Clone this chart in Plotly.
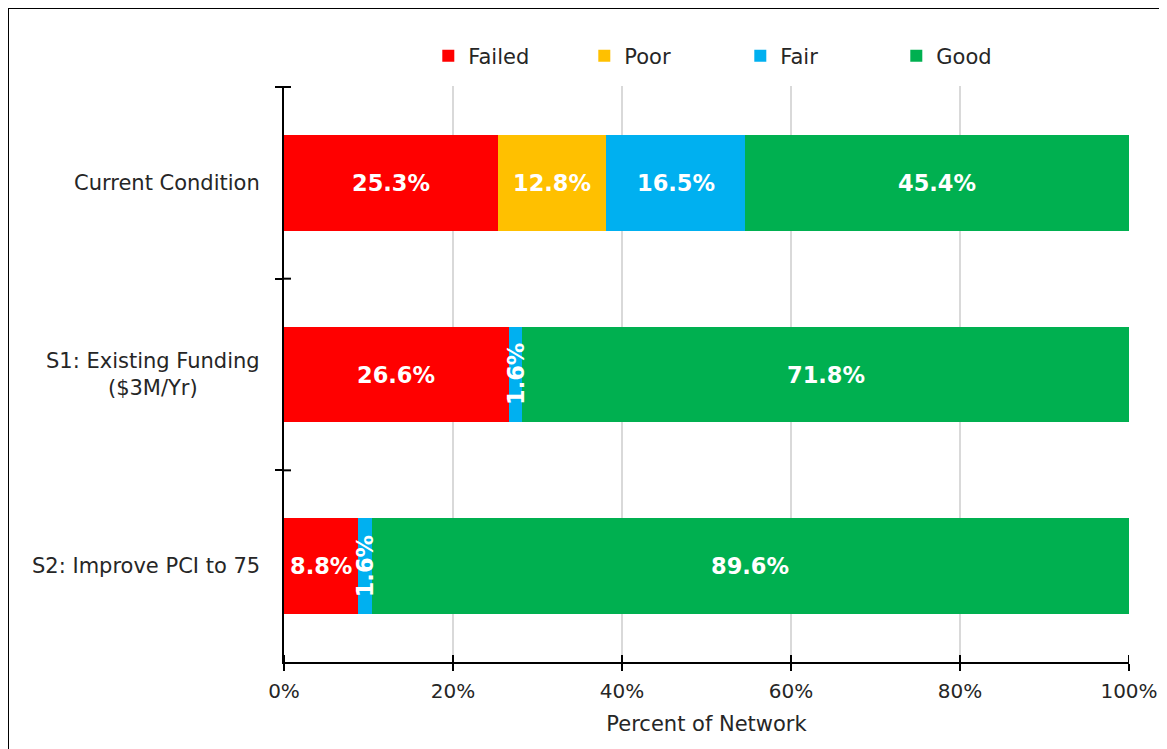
import plotly.graph_objects as go

categories = ["Current Condition", "S1: Existing Funding<br>($3M/Yr)", "S2: Improve PCI to 75"]
series_names = ["Failed", "Poor", "Fair", "Good"]
failed = [25.3, 26.6, 8.8]
poor = [12.8, 0.0, 0.0]
fair = [16.5, 1.6, 1.6]
good = [45.4, 71.8, 89.6]
x_ticks = [0, 20, 40, 60, 80, 100]
x_tick_labels = ["0%", "20%", "40%", "60%", "80%", "100%"]

colors = ["#FF0000", "#FFC000", "#00B0F0", "#00B050"]
FONT = "DejaVu Sans"
TXT = "#262626"
W, H = 1167, 749
# page has an 8px body margin; margins are chosen so the plot area lands at the reference pixels
ML, MR, MT, MB = 276, 46, 78, 95

fig = go.Figure()
all_series = [failed, poor, fair, good]
for name, vals, col in zip(series_names, all_series, colors):
    fig.add_trace(go.Bar(
        y=categories, x=vals, name=name, orientation="h",
        marker=dict(color=col, line=dict(width=0)),
        hoverinfo="x+name",
    ))

pw = W - ML - MR
ph = H - MT - MB

annotations = []
# category labels (centred multi-line, right of them the axis)
for cat in categories:
    annotations.append(dict(
        x=-22 / pw, y=cat, xref="paper", yref="y", text=cat, showarrow=False,
        xanchor="right", yanchor="middle", align="center",
        font=dict(family=FONT, size=21, color=TXT),
    ))
# data labels
for ci, cat in enumerate(categories):
    start = 0.0
    for vals in all_series:
        v = vals[ci]
        if v > 0:
            annotations.append(dict(
                x=start + v / 2, y=cat, xref="x", yref="y",
                text=f"{v:.1f}%", showarrow=False,
                textangle=-90 if v < 5 else 0,
                font=dict(family=FONT, size=22.5, color="white", weight="bold"),
            ))
        start += v

shapes = []
# outer border of the chart
shapes.append(dict(
    type="rect", xref="paper", yref="paper",
    x0=(0 - ML) / pw, x1=(W + 10 - ML) / pw,
    y0=(H - MB - (H + 10)) / ph, y1=(H - MB - 0) / ph,
    line=dict(color="black", width=2), fillcolor="rgba(0,0,0,0)", layer="above",
))
# inner halves of the crossing tick marks
tl = 7
for xv in x_ticks:
    shapes.append(dict(type="line", xref="x", yref="paper", x0=xv, x1=xv,
                       y0=0, y1=tl / ph, line=dict(color="black", width=2), layer="above"))
for b in [-0.5, 0.5, 1.5]:
    shapes.append(dict(type="line", xref="paper", yref="y", x0=0, x1=tl / pw,
                       y0=b, y1=b, line=dict(color="black", width=2), layer="above"))

fig.update_layout(
    width=W, height=H,
    barmode="stack", bargap=0.5,
    margin=dict(l=ML, r=MR, t=MT, b=MB, autoexpand=False),
    plot_bgcolor="white", paper_bgcolor="white",
    font=dict(family=FONT, size=21, color=TXT),
    legend=dict(orientation="h", x=0.54, xanchor="center", y=(H - MB - 48) / ph, yanchor="middle",
                font=dict(size=21), traceorder="normal", itemclick=False,
                entrywidth=111, itemwidth=30),
    annotations=annotations,
    shapes=shapes,
    xaxis=dict(
        range=[0, 100], tickvals=x_ticks, ticktext=x_tick_labels,
        tickfont=dict(size=20),
        showgrid=True, gridcolor="#D9D9D9", gridwidth=2,
        showline=True, linecolor="black", linewidth=2,
        ticks="outside", ticklen=tl, tickwidth=2, tickcolor="black",
        zeroline=False, ticklabelstandoff=3,
        title=dict(text="Percent of Network", font=dict(size=21), standoff=14),
    ),
    yaxis=dict(
        autorange="reversed", showgrid=False,
        showline=True, linecolor="black", linewidth=2,
        ticks="outside", ticklen=tl, tickwidth=2, tickcolor="black",
        tickson="boundaries", showticklabels=False,
    ),
)

fig.write_html("out.html")
